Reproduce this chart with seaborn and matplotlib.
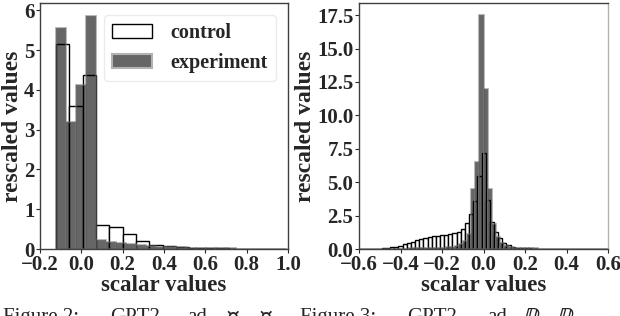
import numpy as np
import pandas as pd
import matplotlib
matplotlib.use("Agg")
import matplotlib.pyplot as plt
from matplotlib.patches import Patch
import seaborn as sns

# left panel: histogram bars
left_ctrl_start = -0.123
left_ctrl_width = 0.0645
left_ctrl = [5.15, 3.6, 4.38, 0.6, 0.55, 0.38, 0.2, 0.11, 0.07, 0.05,
             0.035, 0.025, 0.018, 0.012, 0.008, 0.005, 0.0, 0.0]
left_exp_start = -0.123
left_exp_width = 0.0484
left_exp = [5.55, 3.2, 4.12, 5.85, 0.22, 0.18, 0.14, 0.13, 0.1, 0.08,
            0.06, 0.05, 0.04, 0.035, 0.03, 0.025, 0.02, 0.015, 0.012, 0.01,
            0.008, 0.006, 0.004]

# right panel
right_ctrl_start = -0.61
right_ctrl_width = 0.02
right_ctrl = [0.0, 0.005, 0.01, 0.015, 0.02, 0.03, 0.05, 0.08, 0.12, 0.18,
              0.26, 0.35, 0.45, 0.56, 0.67, 0.77, 0.85, 0.92, 0.97, 1.0,
              1.03, 1.06, 1.1, 1.18, 1.3, 1.5, 1.95, 2.6, 3.6, 5.5,
              7.2,
              3.7, 2.0, 1.3, 0.8, 0.48, 0.3, 0.18, 0.11, 0.07, 0.05,
              0.04, 0.03, 0.02, 0.015, 0.01, 0.01, 0.005, 0, 0, 0,
              0, 0, 0, 0, 0, 0, 0, 0, 0, 0]
right_exp_start = -0.6
right_exp_width = 0.02
right_exp = [0.0, 0.01, 0.01, 0.01, 0.015, 0.015, 0.02, 0.02, 0.025, 0.03,
             0.03, 0.035, 0.04, 0.045, 0.05, 0.055, 0.06, 0.07, 0.08, 0.09,
             0.1, 0.13, 0.17, 0.25, 0.38, 0.6, 1.1, 4.5, 6.5, 17.5,
             12.0, 4.5, 1.9, 0.9, 0.45, 0.25, 0.15, 0.1, 0.08, 0.06,
             0.05, 0.045, 0.04, 0.035, 0.03, 0.025, 0.02, 0.02, 0.015, 0.01,
             0.005, 0, 0, 0, 0, 0, 0, 0, 0, 0]

labels = ['control', 'experiment']

# caption words (the captions are cut by the bottom edge)
cap_left = ['Figure 2:', 'GPT2', 'ad', r'$\mathbb{W}_v$', r'$\mathbb{W}_o$']
cap_right = ['Figure 3:', 'GPT2', 'ad', r'$\mathbb{D}_v$', r'$\mathbb{D}_o$']

sns.set_style('white')
plt.rcParams['font.family'] = ['Liberation Serif', 'DejaVu Serif']
plt.rcParams['font.weight'] = 'bold'
plt.rcParams['axes.labelweight'] = 'bold'
plt.rcParams['mathtext.fontset'] = 'stix'

ctrl_style = dict(facecolor='white', edgecolor='black', linewidth=1.0)
exp_style = dict(facecolor=(0, 0, 0, 0.6), edgecolor=(0.45, 0.45, 0.45, 0.55), linewidth=1.3)


def draw_hist(ax, start, width, heights, style):
    n = len(heights)
    edges = start + width * np.arange(n + 1)
    df = pd.DataFrame({'x': start + width * (np.arange(n) + 0.5),
                       'h': np.asarray(heights, dtype=float)})
    sns.histplot(data=df, x='x', weights='h', bins=list(edges), ax=ax, **style)


fig = plt.figure(figsize=(6.2, 3.16), dpi=100)
ax1 = fig.add_axes([0.0645, 0.212, 0.400, 0.778])
ax2 = fig.add_axes([0.579, 0.212, 0.402, 0.778])

draw_hist(ax1, left_ctrl_start, left_ctrl_width, left_ctrl, ctrl_style)
draw_hist(ax1, left_exp_start, left_exp_width, left_exp, exp_style)
draw_hist(ax2, right_ctrl_start, right_ctrl_width, right_ctrl, ctrl_style)
draw_hist(ax2, right_exp_start, right_exp_width, right_exp, exp_style)

ax1.set_xlim(-0.2, 1.0)
ax1.set_ylim(0, 6.18)
ax1.set_xticks(np.arange(-0.2, 1.01, 0.2))
ax1.set_yticks(range(7))
ax2.set_xlim(-0.6, 0.6)
ax2.set_ylim(0, 18.4)
ax2.set_xticks(np.arange(-0.6, 0.61, 0.2))
ax2.set_yticks(np.arange(0, 17.6, 2.5))

for ax in (ax1, ax2):
    ax.set_xlabel('scalar values', fontsize=16.5, labelpad=0)
    ax.set_ylabel('rescaled values', fontsize=17, labelpad=1)
    ax.tick_params(axis='both', labelsize=15, length=3, width=0.8, pad=1,
                   bottom=True, left=True)
    for s in ax.spines.values():
        s.set_color('0.25')
        s.set_linewidth(1.0)
ax2.spines['right'].set_color('0.7')

handles = [Patch(**ctrl_style), Patch(facecolor=(0.4, 0.4, 0.4), edgecolor='0.7', linewidth=1.5)]
ax1.legend(handles, labels, loc='upper right', fontsize=14.5, frameon=True,
           borderaxespad=0.6, handlelength=2.0, handletextpad=0.9,
           labelspacing=0.5, fancybox=True, framealpha=0.8, edgecolor='0.9')

W = 620.0
for words, xs in ((cap_left, [3, 110, 187, 227, 260]), (cap_right, [300, 407, 487, 523, 557])):
    for word, x in zip(words, xs):
        fig.text(x / W, -0.018, word, fontsize=15, fontweight='normal',
                 ha='left', va='baseline')

fig.savefig('out.png', dpi=100)
